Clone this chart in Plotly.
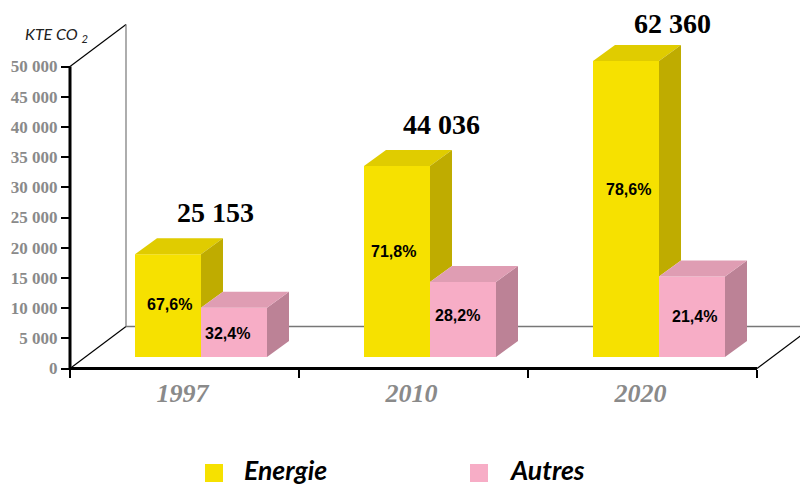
import plotly.graph_objects as go

# ---- data ----
years = ["1997", "2010", "2020"]
totals = [25153, 44036, 62360]
total_labels = ["25 153", "44 036", "62 360"]
energie_share = [67.6, 71.8, 78.6]
autres_share = [32.4, 28.2, 21.4]
share_labels_e = ["67,6%", "71,8%", "78,6%"]
share_labels_a = ["32,4%", "28,2%", "21,4%"]
y_ticks = [0, 5000, 10000, 15000, 20000, 25000, 30000, 35000, 40000, 45000, 50000]
y_tick_labels = ["0", "5 000", "10 000", "15 000", "20 000", "25 000", "30 000",
                 "35 000", "40 000", "45 000", "50 000"]
legend_names = ["Energie", "Autres"]

# ---- page geometry: the page body insets the figure by 8 px ----
PAGE_W, PAGE_H = 808, 485
INSET = 8
W, H = PAGE_W - INSET, PAGE_H - INSET
PX_X = 229.0
PX_Y = 302 / 50000
X0_PX = 184.5   # page pixel of category 0
Y0_PX = 368.5   # page pixel of value 0
x_range = [(INSET - X0_PX) / PX_X, (PAGE_W - X0_PX) / PX_X]
y_range = [(Y0_PX - PAGE_H) / PX_Y, (Y0_PX - INSET) / PX_Y]

ux = lambda px: px / PX_X
uy = lambda px: px / PX_Y
paper_x = lambda px: (px - INSET) / W
paper_y = lambda px: 1 - (px - INSET) / H

energie = [t * s / 100 for t, s in zip(totals, energie_share)]
autres = [t * s / 100 for t, s in zip(totals, autres_share)]

BAR_W = ux(66)
SHIFT_X = ux(16.5)   # bars sit inside the floor, not on its front edge
BASE = uy(11.5)
DX, DY = ux(22), uy(16)
FLOOR_DX, FLOOR_DY = ux(56), uy(42)
FONT_SERIF = "Liberation Serif"
FONT_SANS = "Liberation Sans"
FONT_OPT = "Lato"
GRAY = "#8a8a8a"

YEL, YEL_TOP, YEL_SIDE = "#F6E100", "#E0CC00", "#BFAC00"
PNK, PNK_TOP, PNK_SIDE = "#F7ADC6", "#DF9DB3", "#BC8296"

def join(polys):
    xs, ys = [], []
    for p in polys:
        xs += [a for a, _ in p] + [p[0][0], None]
        ys += [b for _, b in p] + [p[0][1], None]
    return xs, ys

cats = list(range(len(years)))
ys_top, ys_side, ps_top, ps_side = [], [], [], []
for c, e, a in zip(cats, energie, autres):
    xm = c + SHIFT_X
    te, ta = BASE + e, BASE + a
    l, r = xm - BAR_W, xm + BAR_W
    ys_top.append([(l, te), (xm, te), (xm + DX, te + DY), (l + DX, te + DY)])
    ys_side.append([(xm, te), (xm + DX, te + DY), (xm + DX, ta + DY), (xm, ta)])
    ps_top.append([(xm, ta), (r, ta), (r + DX, ta + DY), (xm + DX, ta + DY)])
    ps_side.append([(r, ta), (r + DX, ta + DY), (r + DX, BASE + DY), (r, BASE)])

fig = go.Figure()
fig.add_bar(x=cats, y=energie, base=BASE, width=BAR_W, offset=SHIFT_X - BAR_W, name=legend_names[0],
            marker=dict(color=YEL, line_width=0), showlegend=False, hoverinfo="skip")
fig.add_bar(x=cats, y=autres, base=BASE, width=BAR_W, offset=SHIFT_X, name=legend_names[1],
            marker=dict(color=PNK, line_width=0), showlegend=False, hoverinfo="skip")
for polys, col in [(ys_top, YEL_TOP), (ys_side, YEL_SIDE), (ps_side, PNK_SIDE), (ps_top, PNK_TOP)]:
    xs, ys = join(polys)
    fig.add_scatter(x=xs, y=ys, mode="lines", fill="toself", fillcolor=col,
                    line=dict(width=0, color=col), showlegend=False, hoverinfo="skip")

# walls, floor and axis lines
x_left, x_right = -0.5, len(years) - 0.5
top = y_ticks[-1]
def seg(x0, y0, x1, y1, color, width):
    return dict(type="line", xref="x", yref="y", x0=x0, y0=y0, x1=x1, y1=y1,
                line=dict(color=color, width=width), layer="below")
shapes = [
    seg(x_left, 0, x_left + FLOOR_DX, FLOOR_DY, "#000000", 1.2),
    seg(x_left, top, x_left + FLOOR_DX, top + FLOOR_DY, "#000000", 1.2),
    seg(x_left + FLOOR_DX, FLOOR_DY, x_left + FLOOR_DX, top + FLOOR_DY, "#777777", 1.2),
    seg(x_left + FLOOR_DX, FLOOR_DY, x_range[1], FLOOR_DY, "#777777", 1.6),
    seg(x_right, 0, x_range[1], uy((PAGE_W - (X0_PX + x_right * PX_X)) * 42 / 56), "#000000", 1.2),
    seg(x_left, 0, x_left, top, "#000000", 3),
    seg(x_left, 0, x_right, 0, "#000000", 3),
]

annotations = []
# percent labels: small pixel nudges from each face's centre
nudge_e = [(1, 1.5), (-4, 10), (2, 19)]
nudge_a = [(-7, -1), (-6, 4.5), (2, 0)]
for c, e, a, le, la, ne, na in zip(cats, energie, autres, share_labels_e, share_labels_a, nudge_e, nudge_a):
    annotations.append(dict(x=c + SHIFT_X - BAR_W / 2, y=BASE + e / 2, text=f"<b>{le}</b>", showarrow=False,
                            xshift=ne[0], yshift=ne[1], font=dict(family=FONT_SANS, size=16, color="#000")))
    annotations.append(dict(x=c + SHIFT_X + BAR_W / 2, y=BASE + a / 2, text=f"<b>{la}</b>", showarrow=False,
                            xshift=na[0], yshift=na[1], font=dict(family=FONT_SANS, size=16, color="#000")))
# totals above each column
for c, e, lab, nx, ny in zip(cats, energie, total_labels, [14, 11, 13], [8, 8, 4]):
    annotations.append(dict(x=c + SHIFT_X, y=BASE + e + DY, text=f"<b>{lab}</b>", showarrow=False,
                            yanchor="bottom", xshift=nx, yshift=ny,
                            font=dict(family=FONT_SERIF, size=28, color="#000")))
# unit title
annotations.append(dict(xref="paper", yref="paper", x=paper_x(23), y=paper_y(35), xanchor="left", yanchor="middle",
                        text="<i>KTE CO <sub>2</sub></i>", showarrow=False,
                        font=dict(family=FONT_OPT, size=16, color="#222")))
# legend: swatches and bold italic names
for name, col, sx, tx in zip(legend_names, [YEL, PNK], [205, 470], [242, 507]):
    shapes.append(dict(type="rect", xref="paper", yref="paper", x0=paper_x(sx), x1=paper_x(sx + 18),
                       y0=paper_y(482), y1=paper_y(464), fillcolor=col, line_width=0))
    annotations.append(dict(xref="paper", yref="paper", x=paper_x(tx), y=paper_y(469.5), xanchor="left",
                            yanchor="middle", text=f"<b><i>{name}</i></b>", showarrow=False,
                            font=dict(family=FONT_OPT, size=26.5, color="#000")))

fig.update_layout(
    width=W, height=H, autosize=False,
    margin=dict(l=0, r=0, t=0, b=0),
    paper_bgcolor="white", plot_bgcolor="white",
    barmode="overlay", showlegend=False,
    shapes=shapes, annotations=annotations,
    xaxis=dict(range=x_range, anchor="free", position=paper_y(Y0_PX), showgrid=False, zeroline=False,
               automargin=False, showline=False, tickmode="array", tickvals=[c - ux(2) for c in cats],
               ticktext=years, ticks="", ticklabelstandoff=6,
               tickfont=dict(family=FONT_SERIF, size=26, color=GRAY, weight="bold", style="italic"),
               minor=dict(tickmode="array", tickvals=[-0.5, 0.5, 1.5, 2.5], ticks="outside", ticklen=8,
                          tickwidth=2, tickcolor="#000", showgrid=False)),
    yaxis=dict(range=y_range, anchor="free", position=paper_x(X0_PX - 0.5 * PX_X), showgrid=False, zeroline=False,
               automargin=False, showline=False, tickmode="array", tickvals=y_ticks, ticktext=y_tick_labels,
               ticks="outside", ticklen=9, tickwidth=2, tickcolor="#000",
               tickfont=dict(family=FONT_SERIF, size=17, color=GRAY, weight="bold")),
)
fig.write_html("out.html")
